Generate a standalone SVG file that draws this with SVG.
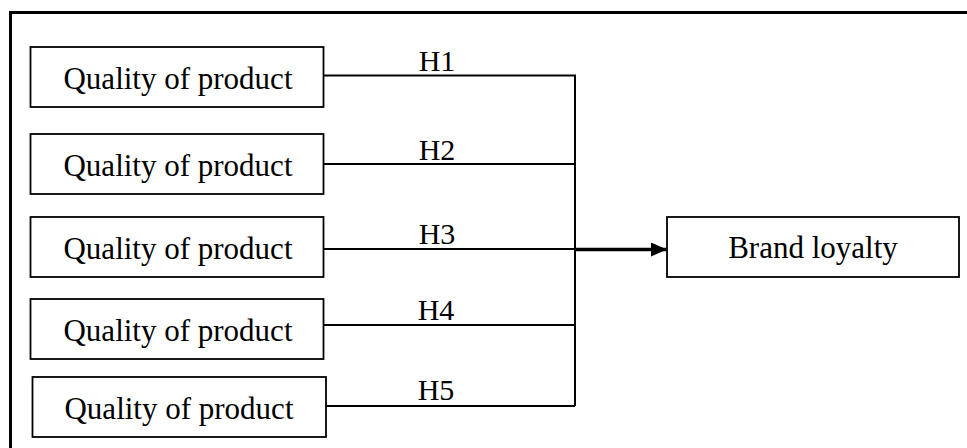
<svg xmlns="http://www.w3.org/2000/svg" width="967" height="448" viewBox="0 0 967 448">
  <style>
    .box { fill: #fff; stroke: #000; stroke-width: 1.8; }
    .lbl { font-family: "Liberation Serif", "Times New Roman", serif; font-size: 31px; fill: #000; text-anchor: middle; }
    .h { font-family: "Liberation Serif", "Times New Roman", serif; font-size: 30px; fill: #000; text-anchor: middle; }
    .ln { stroke: #000; stroke-width: 2; fill: none; }
  </style>
  <defs>
    <marker id="arr" markerUnits="userSpaceOnUse" markerWidth="17" markerHeight="15" refX="16" refY="7" orient="auto">
      <path d="M0,0 L16,7 L0,14 Z" fill="#000"/>
    </marker>
  </defs>
  <rect width="967" height="448" fill="#fff"/>
  <path d="M10.5,448 L10.5,12.5 L967,12.5" fill="none" stroke="#000" stroke-width="3"/>

  <g id="connectors">
    <path class="ln" d="M323.5,75.5 L575,75.5 L575,406"/>
    <line class="ln" x1="323.5" y1="164" x2="575" y2="164"/>
    <line class="ln" x1="323.5" y1="249" x2="575" y2="249"/>
    <line class="ln" x1="323.5" y1="325" x2="575" y2="325"/>
    <line class="ln" x1="326" y1="406" x2="575" y2="406"/>
    <line x1="575" y1="249.5" x2="667" y2="249.5" stroke="#000" stroke-width="3.5" marker-end="url(#arr)"/>
    <text class="h" x="437" y="71">H1</text>
    <text class="h" x="437" y="160">H2</text>
    <text class="h" x="437" y="244">H3</text>
    <text class="h" x="436" y="320">H4</text>
    <text class="h" x="436" y="400">H5</text>
  </g>

  <g id="q1">
    <rect class="box" x="30.5" y="47" width="293" height="60"/>
    <text class="lbl" x="178" y="89">Quality of product</text>
  </g>
  <g id="q2">
    <rect class="box" x="30.5" y="134" width="293" height="60"/>
    <text class="lbl" x="178" y="176">Quality of product</text>
  </g>
  <g id="q3">
    <rect class="box" x="30.5" y="217" width="293" height="60"/>
    <text class="lbl" x="178" y="259">Quality of product</text>
  </g>
  <g id="q4">
    <rect class="box" x="30.5" y="299" width="293" height="60"/>
    <text class="lbl" x="178" y="341">Quality of product</text>
  </g>
  <g id="q5">
    <rect class="box" x="32.5" y="377" width="293.5" height="60"/>
    <text class="lbl" x="179" y="419">Quality of product</text>
  </g>
  <g id="brand">
    <rect class="box" x="667" y="217" width="292" height="60"/>
    <text class="lbl" x="813" y="258">Brand loyalty</text>
  </g>
</svg>
